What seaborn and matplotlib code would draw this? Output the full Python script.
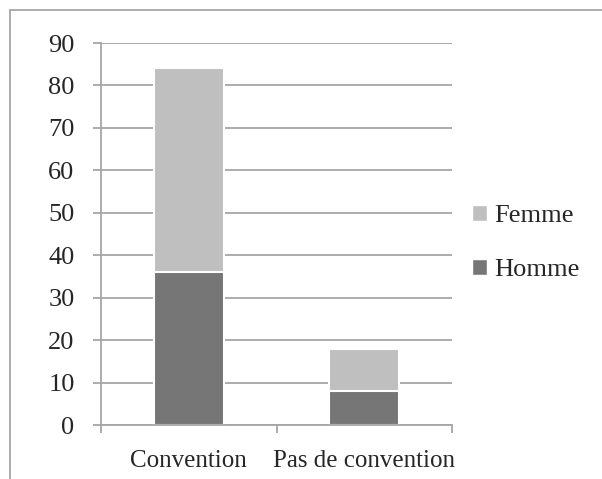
import matplotlib
matplotlib.use("Agg")
import matplotlib.pyplot as plt
import seaborn as sns
import pandas as pd
from matplotlib.patches import Patch, Rectangle

# data
categories = ["Convention", "Pas de convention"]
homme = [36, 8]
femme = [48, 10]
series_names = ["Femme", "Homme"]
colors = {"Femme": "#BFBFBF", "Homme": "#767676"}

df = pd.DataFrame({"cat": categories, "Homme": homme, "Femme": femme})
df["Total"] = df["Homme"] + df["Femme"]

sns.set_style("white")
plt.rcParams["font.family"] = ["Liberation Serif", "DejaVu Serif"]

fig = plt.figure(figsize=(6.02, 4.79), dpi=100)
ax = fig.add_axes([101 / 602, 54 / 479, (452 - 101) / 602, (425 - 43) / 479])

grid_c = "#A6A6A6"
ax.set_axisbelow(True)
ax.yaxis.grid(True, color=grid_c, linewidth=1.3)

# stacked bars: total (femme on top) then homme over it
sns.barplot(data=df, x="cat", y="Total", color=colors["Femme"], width=0.4,
            edgecolor="white", linewidth=1.5, saturation=1, ax=ax)
sns.barplot(data=df, x="cat", y="Homme", color=colors["Homme"], width=0.4,
            edgecolor="white", linewidth=1.5, saturation=1, ax=ax)

ax.set_ylim(0, 90)
ax.set_xlim(-0.5, 1.5)
ax.set_yticks(range(0, 91, 10))
ax.set_xlabel("")
ax.set_ylabel("")
ax.tick_params(axis="y", labelsize=19, length=6, color=grid_c, width=1.3, pad=13, left=True)
ax.tick_params(axis="x", labelsize=18, length=0, pad=18)
ax.set_xticks([-0.5, 0.5, 1.5], minor=True)
ax.tick_params(axis="x", which="minor", length=6, color=grid_c, width=1.3, bottom=True)

for s in ["top", "right"]:
    ax.spines[s].set_visible(False)
for s in ["left", "bottom"]:
    ax.spines[s].set_color(grid_c)
    ax.spines[s].set_linewidth(1.3)

handles = [Patch(facecolor=colors[n], edgecolor="white") for n in series_names]
fig.legend(handles, series_names, loc="center left", bbox_to_anchor=(459 / 602, 1 - 243 / 479),
           frameon=False, fontsize=19, handlelength=0.55, handleheight=0.55,
           handletextpad=0.3, labelspacing=1.2, borderpad=0)

# outer chart frame (top and left edges visible)
fig.patches.append(Rectangle((10 / 602, -0.1), 1.2, 1.1 - 10 / 479, transform=fig.transFigure,
                             fill=False, edgecolor="#A6A6A6", linewidth=1.3))

fig.savefig("out.png", dpi=100)
